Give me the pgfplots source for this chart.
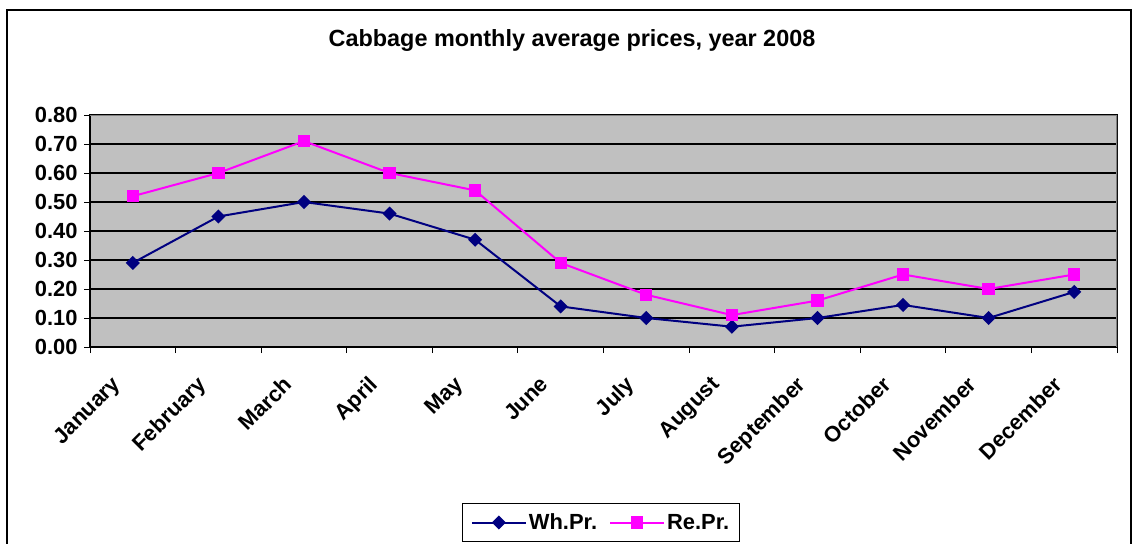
\documentclass[border=0pt]{standalone}
\usepackage{pgfplots}
\pgfplotsset{compat=1.18}
\usepackage{fontspec}
\setmainfont{Liberation Sans}
\definecolor{plotgray}{HTML}{C0C0C0}
\definecolor{whblue}{HTML}{000080}
\definecolor{remag}{HTML}{FF00FF}
\pgfplotstableread{
idx wh re
0 0.29 0.52
1 0.45 0.60
2 0.50 0.71
3 0.46 0.60
4 0.37 0.54
5 0.14 0.29
6 0.10 0.18
7 0.07 0.11
8 0.10 0.16
9 0.145 0.25
10 0.10 0.20
11 0.19 0.25
}\datatable
\begin{document}
\begin{tikzpicture}[x=1bp,y=1bp]
\begin{axis}[
  at={(90bp,197bp)}, anchor=south west,
  scale only axis, width=1027bp, height=232bp,
  xmin=-0.5, xmax=11.5, ymin=0, ymax=0.8,
  axis background/.style={fill=plotgray},
  axis line style={draw=black, line width=1.2bp},
  xtick={0,...,11},
  xticklabels={January,February,March,April,May,June,July,August,September,October,November,December},
  minor xtick={-0.5,0.5,...,11.5},
  major x tick style={draw=none},
  ytick={0,0.1,...,0.8},
  yticklabels={0.00,0.10,0.20,0.30,0.40,0.50,0.60,0.70,0.80},
  xtick pos=bottom, ytick pos=left,
  tick align=outside,
  major tick length=6bp, minor tick length=6bp,
  tick style={black, line width=1bp},
  ymajorgrids,
  major grid style={black, line width=1.2bp},
  ticklabel style={font=\bfseries\fontsize{22}{22}\selectfont},
  yticklabel style={xshift=-3bp},
  xticklabel style={xshift=-22bp, yshift=-17bp, rotate=45, anchor=north east},
  legend columns=2,
  legend style={at={(axis description cs:0.4976,-0.7565)}, anchor=center,
    draw=black, line width=1bp, font=\bfseries\fontsize{22}{22}\selectfont,
    inner xsep=8bp, inner ysep=8bp,
    /tikz/every even column/.append style={column sep=10bp}},
  legend image code/.code={%
    \draw[mark repeat=2,mark phase=2] plot coordinates {(0bp,0bp) (27bp,0bp) (54bp,0bp)};},
]
\addplot[whblue, line width=2bp, mark=square*, mark size=4bp, mark options={rotate=45, solid}] table[x=idx,y=wh]{\datatable};
\addlegendentry{Wh.Pr.}
\addplot[remag, line width=2bp, mark=square*, mark size=5.2bp, mark options={solid}] table[x=idx,y=re]{\datatable};
\addlegendentry{Re.Pr.}
\draw[gray, line width=1.5bp] (rel axis cs:0,1) -- (rel axis cs:1,1) -- (rel axis cs:1,0);
\end{axis}
\node[font=\bfseries\fontsize{23.5}{23.5}\selectfont] at (572bp,503bp) {Cabbage monthly average prices, year 2008};
\draw[black, line width=2bp] (7bp,-30bp) rectangle (1131bp,534bp);
\pgfresetboundingbox
\useasboundingbox (0,0) rectangle (1138bp,544bp);
\end{tikzpicture}
\end{document}
